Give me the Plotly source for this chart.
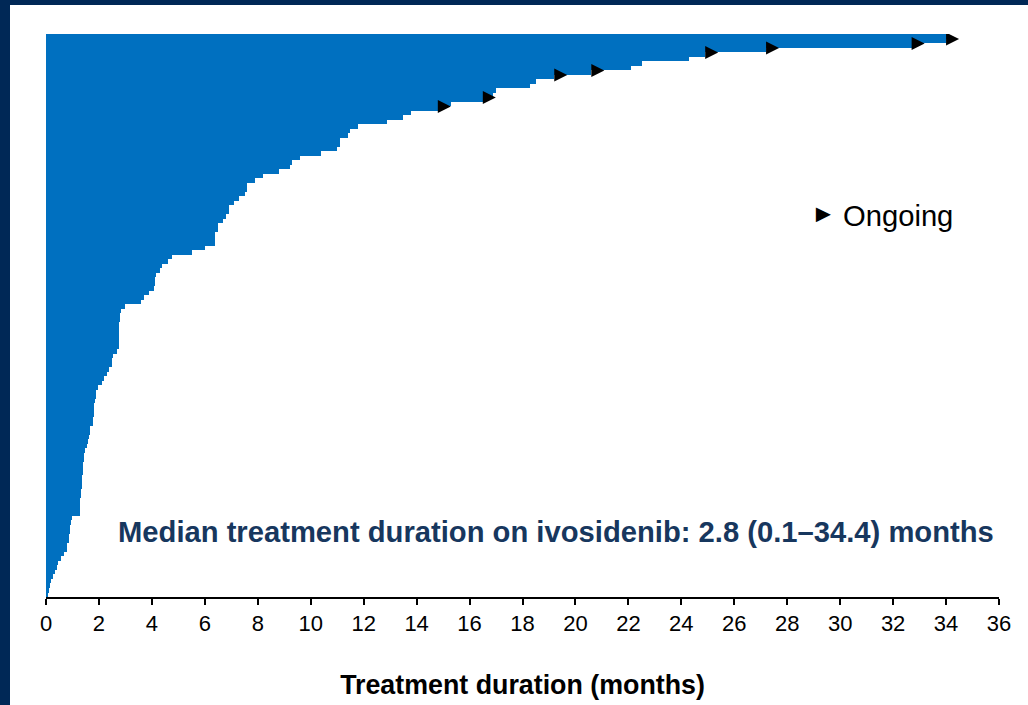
import plotly.graph_objects as go

# ---- data (patients sorted longest -> shortest) ----
durations_months = [
    34.1, 34.0, 32.7, 27.2, 24.9, 24.3, 22.5, 22.1, 20.6, 19.2,
    18.5, 18.3, 17.0, 16.9, 16.5, 15.3, 14.8, 13.8, 13.5, 12.9,
    11.8, 11.5, 11.4, 11.1, 11.1, 11.0, 10.4, 9.6, 9.3, 9.2,
    8.8, 8.2, 7.9, 7.6, 7.6, 7.5, 7.3, 7.1, 6.9, 6.9,
    6.8, 6.7, 6.5, 6.5, 6.4, 6.4, 6.4, 6.0, 5.5, 4.75,
    4.6, 4.4, 4.3, 4.15, 4.13, 4.12, 4.07, 3.9, 3.7, 3.6,
    3.0, 2.83, 2.8, 2.78, 2.77, 2.77, 2.76, 2.76, 2.75, 2.75,
    2.69, 2.54, 2.49, 2.48, 2.39, 2.32, 2.18, 2.12, 1.95, 1.90,
    1.89, 1.85, 1.82, 1.81, 1.81, 1.79, 1.76, 1.67, 1.65, 1.62,
    1.59, 1.54, 1.49, 1.45, 1.44, 1.41, 1.39, 1.38, 1.37, 1.36,
    1.35, 1.33, 1.32, 1.30, 1.28, 1.28, 1.27, 0.99, 0.93, 0.91,
    0.89, 0.87, 0.85, 0.81, 0.78, 0.69, 0.56, 0.46, 0.40, 0.34,
    0.26, 0.19, 0.14, 0.10, 0.06,
]
ongoing_ranks = [1, 2, 3, 4, 8, 9, 14, 16]   # index into durations_months
x_tick_values = list(range(0, 37, 2))
x_title = "Treatment duration (months)"
median_label = "Median treatment duration on ivosidenib: 2.8 (0.1\u201334.4) months"
legend_label = "Ongoing"

# ---- geometry / style ----
W, H = 1028, 705
L, R, T, B = 46, 29, 34, 108
PW, PH = W - L - R, H - T - B
X_MAX = 36
px_per_month = PW / X_MAX
ARROW_SIZE = 13
arrow_offset = ARROW_SIZE / px_per_month
BAR_COLOR = "#0070C0"
NAVY = "#002856"
TEXT_NAVY = "#17375E"
FONT = "Liberation Sans, Arial, sans-serif"

n = len(durations_months)
positions = [n - 1 - i for i in range(n)]

fig = go.Figure()
fig.add_trace(go.Bar(
    x=durations_months, y=positions, orientation="h", width=1,
    marker=dict(color=BAR_COLOR, line=dict(width=0)),
    showlegend=False, hoverinfo="x",
))
fig.add_trace(go.Scatter(
    x=[durations_months[i] + arrow_offset for i in ongoing_ranks],
    y=[positions[i] + 0.38 for i in ongoing_ranks],
    mode="markers",
    marker=dict(symbol="arrow-right", size=ARROW_SIZE, color="black",
                line=dict(width=0, color="black")),
    showlegend=False, hoverinfo="skip",
))

def px_x(p):
    return (p - L) / PW

def px_y(p):
    return (H - B - p) / PH

shapes = [
    dict(type="rect", xref="paper", yref="paper", layer="above",
         x0=px_x(0), x1=px_x(10), y0=px_y(H), y1=px_y(0),
         fillcolor=NAVY, line=dict(width=0)),
    dict(type="rect", xref="paper", yref="paper", layer="above",
         x0=px_x(0), x1=px_x(W), y0=px_y(5), y1=px_y(0),
         fillcolor=NAVY, line=dict(width=0)),
]

annotations = [
    dict(xref="paper", yref="paper", x=px_x(996), y=px_y(532),
         xanchor="right", yanchor="middle", showarrow=False,
         text=median_label,
         font=dict(family=FONT, size=29.2, color=TEXT_NAVY, weight="bold")),
    dict(xref="paper", yref="paper", x=px_x(841), y=px_y(216),
         xanchor="left", yanchor="middle", showarrow=False,
         text=legend_label, font=dict(family=FONT, size=29.2, color="black")),
    dict(xref="paper", yref="paper", x=px_x(823), y=px_y(213),
         xanchor="center", yanchor="middle", showarrow=False,
         text="\u25BA", font=dict(family=FONT, size=25, color="black")),
]

fig.update_layout(
    width=W, height=H,
    margin=dict(l=L, r=R, t=T, b=B, pad=0),
    paper_bgcolor="white", plot_bgcolor="white",
    bargap=0,
    shapes=shapes, annotations=annotations,
    xaxis=dict(
        range=[0, X_MAX], tickvals=x_tick_values, ticktext=[str(v) for v in x_tick_values],
        ticks="outside", ticklen=6, tickwidth=1.5, tickcolor="black",
        showline=True, linecolor="black", linewidth=1.5,
        showgrid=False, zeroline=False,
        tickfont=dict(family=FONT, size=22, color="black"),
        title=dict(text=x_title, standoff=40,
                   font=dict(family=FONT, size=26.8, color="black", weight="bold")),
        automargin=False, fixedrange=True,
    ),
    yaxis=dict(range=[-0.5, n - 0.5], visible=False, fixedrange=True),
)

fig.write_html("out.html")
